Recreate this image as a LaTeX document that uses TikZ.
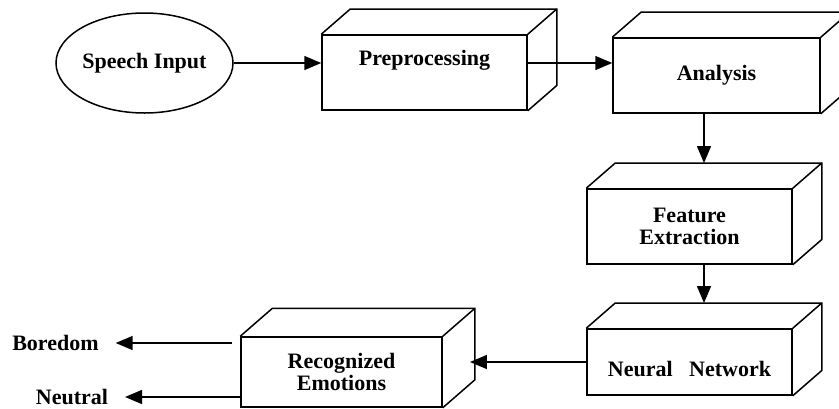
\documentclass[tikz,border=0pt]{standalone}
\usepackage{fontspec}
\setmainfont{Liberation Serif}
\usetikzlibrary{arrows.meta, positioning, calc, shapes.geometric}
\newcommand{\boxback}[2][29]{%
  \draw[boxline] (#2.north west) -- ++(#1,0.87*#1)
    -| ($(#2.south east)+(#1,0.87*#1)$) -- (#2.south east);
  \draw[boxline] (#2.north east) -- ++(#1,0.87*#1);
  \coordinate (#2-top) at ($(#2.north)+(#1/2,0.87*#1)$);
  \coordinate (#2-side) at ($(#2.east)+(0.85*#1,0)$);}

\begin{document}
\begin{tikzpicture}[x=1pt, y=1pt,
    font=\bfseries\fontsize{22}{22}\selectfont,
    boxline/.style={line width=1.5pt},
    stage/.style={draw, line width=1.5pt, align=center, inner sep=0pt},
    flow/.style={line width=1.5pt, -{Triangle[length=17pt, width=14pt]}},
    emotion/.style={inner sep=0pt, outer sep=17pt}]
  \useasboundingbox (0,0) rectangle (839,-408);
  \clip (0,0) rectangle (839,-408);

  \node[draw, ellipse, line width=1.5pt, inner sep=0pt,
    minimum width=177pt, minimum height=100pt] (speech) at (144.5,-63) {Speech Input};

  \node[stage, minimum width=205pt, minimum height=75pt, text depth=30pt]
    (pre) at (424.5,-72.5) {Preprocessing};
  \boxback{pre}
  \node[stage, minimum width=207pt, minimum height=75pt]
    (ana) at (716.5,-75.5) {Analysis};
  \boxback{ana}
  \node[stage, minimum width=205pt, minimum height=75pt]
    (feat) at (689.5,-226.5) {Feature\\Extraction};
  \boxback{feat}
  \node[stage, minimum width=205pt, minimum height=66pt, text height=30pt]
    (neu) at (689.5,-362) {Neural\ \ \ Network};
  \boxback{neu}
  \node[stage, minimum width=201pt, minimum height=70pt]
    (rec) at (341.5,-372) {Recognized\\Emotions};
  \boxback[32]{rec}

  \node[emotion] (bored) at (55.5,-343) {Boredom};
  \node[emotion] (neutral) at (72,-397) {Neutral};

  \draw[flow] (speech.east) -- (speech.east -| pre.west);
  \draw[flow] (speech.east -| pre.east) -- (speech.east -| ana.west);
  \draw[flow] (ana.south -| feat-top) -- (feat-top);
  \draw[flow] (feat.south -| neu-top) -- (neu-top);
  \draw[flow] (neu.west) -- (neu.west -| rec-side);
  \draw[flow, shorten <=8pt] (rec.west |- bored) -- (bored);
  \draw[flow, shorten <=-2pt] (rec.west |- neutral) -- (neutral);
\end{tikzpicture}
\end{document}
